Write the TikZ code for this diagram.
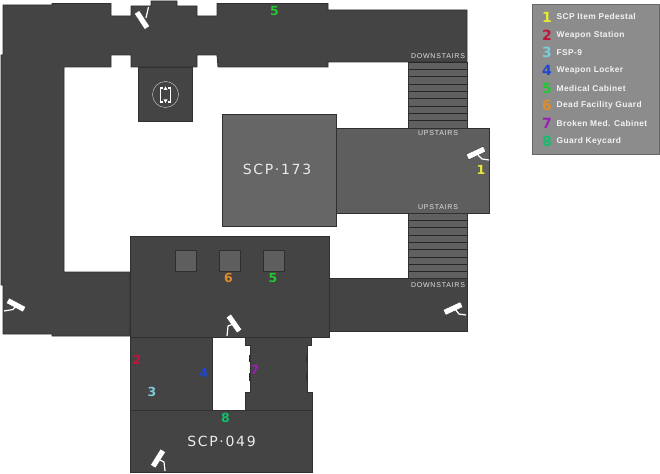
\documentclass[tikz,border=0pt]{standalone}
\usepackage{fontspec}
\setmainfont{Liberation Sans}
\newfontfamily\legfont[LetterSpace=4.5]{Liberation Sans}
\newfontfamily\stairfont[LetterSpace=11]{Liberation Sans}
\newfontfamily\roomfont[LetterSpace=12]{DejaVu Sans}
\newfontfamily\digfont{DejaVu Sans}
\definecolor{corr}{HTML}{444444}
\definecolor{edge}{HTML}{303030}
\definecolor{lit}{HTML}{5E5E5E}
\definecolor{lit2}{HTML}{666666}
\definecolor{stair}{HTML}{606060}
\definecolor{leg}{HTML}{8C8C8C}
\definecolor{cone}{HTML}{E8E83C}
\definecolor{ctwo}{HTML}{C0143C}
\definecolor{cthree}{HTML}{7CCBD8}
\definecolor{cfour}{HTML}{1E46D2}
\definecolor{cfive}{HTML}{22C832}
\definecolor{csix}{HTML}{E08C28}
\definecolor{cseven}{HTML}{9A1EB4}
\definecolor{ceight}{HTML}{14BE6E}
\tikzset{
  x=1pt,y=-1pt,
  room/.style={fill=corr,draw=edge,line width=0.8pt,line join=miter},
  litroom/.style={fill=lit,draw=edge,line width=0.8pt},
  crate/.style={fill=#1,draw=#1!50!black,line width=0.9pt},
  tread/.style={draw=black!85,line width=0.8pt},
  door/.style={draw=edge,line width=1.1pt},
  cambody/.style={draw=edge,fill=white,line width=0.4pt,minimum width=19pt,minimum height=6pt,inner sep=0pt,shape=rectangle},
  camarm/.style={draw=white,line width=1.2pt},
  stairlab/.style={text=white!88!black,font=\stairfont\fontsize{7}{7}\selectfont,inner sep=0pt},
  roomlab/.style={text=white!92!black,font=\roomfont\fontsize{14}{14}\selectfont,inner sep=0pt},
  digit/.style={text=#1,font=\digfont\bfseries\fontsize{12.5}{12.5}\selectfont,inner sep=0pt},
  legdigit/.style={text=#1,font=\digfont\bfseries\fontsize{14}{14}\selectfont,inner sep=0pt},
  legtext/.style={text=white!95!black,font=\legfont\bfseries\fontsize{8.4}{9}\selectfont,anchor=west,inner sep=0pt},
}
\begin{document}
\begin{tikzpicture}
\useasboundingbox (0,0) rectangle (660,473);
\fill[white] (0,0) rectangle (660,473);
% stairs
\fill[stair] (408,62) rectangle (467,128);
\fill[stair] (408,213) rectangle (467,278);
\foreach \y in {62,69.5,76.7,84,91,98,106,113,120}{\draw[tread] (408,\y) -- (467,\y);}
\foreach \y in {220,227,235,242,249,257,264,271}{\draw[tread] (408,\y) -- (467,\y);}
\draw[edge,line width=0.6pt] (408,62) -- (408,128) (467,62) -- (467,128) (408,213) -- (408,278) (467,213) -- (467,278);
% upper corridor and left wing
\draw[room] (3,5) -- (52,5) -- (52,3.5) -- (111,3.5) -- (111,16) -- (131,16) -- (131,6) -- (151,6) -- (151,1) -- (177,1) -- (177,6) -- (197,6) -- (197,16) -- (217,16) -- (217,3.5) -- (328,3.5) -- (328,10) -- (467,10) -- (467,62) -- (408,62) -- (328,62) -- (328,67) -- (218,67) -- (217,55) -- (197,55) -- (197,67) -- (131,67) -- (131,55) -- (111,55) -- (111,67) -- (64,67) -- (64,272) -- (130,272) -- (130,336) -- (52,336) -- (52,334) -- (3,334) -- (3,285) -- (1,285) -- (1,55) -- (3,55) -- cycle;
% pedestal room
\draw[room] (138,67) rectangle (192,121);
% lit rooms
\draw[litroom] (336,128) rectangle (489,213);
\draw[litroom,fill=lit2] (222,114) rectangle (336,226);
% lower corridor + main room
\draw[room] (329,278) rectangle (467,331);
\draw[room] (130,236) rectangle (329,337);
% crates
\draw[crate=lit] (175,250) rectangle (196,271);
\draw[crate=lit] (219,250) rectangle (240,271);
\draw[crate=lit] (263,250) rectangle (284,271);
% south rooms
\draw[room] (130,337) -- (212,337) -- (212,410) -- (130,410) -- cycle;
\draw[room] (245,337) -- (311,337) -- (311,345) -- (307,345) -- (307,392) -- (312,392) -- (312,410) -- (245,410) -- (245,392) -- (250,392) -- (250,345) -- (245,345) -- cycle;
\draw[room] (130,410) rectangle (312,472);
\draw[door] (250,355) -- (250,362) (250,373) -- (250,381) (307,355) -- (307,362) (307,373) -- (307,381);
% elevator icon
\draw[white!75!black,line width=0.5pt] (165.5,94.5) circle (13);
\draw[white,line width=1.1pt] (163,88) -- (160.5,88) -- (160.5,102) -- (163,102);
\draw[white,line width=1.1pt] (168,88) -- (170.5,88) -- (170.5,102) -- (168,102);
\fill[white] (165.5,86.5) -- (163.5,90) -- (167.5,90) -- cycle;
\fill[white] (165.5,103) -- (163.5,99.5) -- (167.5,99.5) -- cycle;
% cameras
\node[cambody,rotate=-57] (camA) at (142,20) {};
\draw[camarm] (146,18) -- (148.5,7);
\node[cambody,rotate=25] (camB) at (476,153) {};
\draw[camarm] (478,155) -- (482,159) -- (489,160);
\node[cambody,rotate=-28] (camC) at (16,305) {};
\draw[camarm] (4,311) -- (13,309.5) -- (16,306);
\node[cambody,rotate=-55] (camD) at (234,323.5) {};
\draw[camarm] (227,336) -- (228,326) -- (232,324.5);
\node[cambody,rotate=58] (camE) at (158,458.5) {};
\draw[camarm] (165,471) -- (164,462) -- (160,460);
\node[cambody,rotate=25] (camF) at (453,308.5) {};
\draw[camarm] (455,309) -- (459,314) -- (466,315);
% stair labels
\node[stairlab] (s1) at (438,56) {DOWNSTAIRS};
\node[stairlab] (s2) at (438,133) {UPSTAIRS};
\node[stairlab] (s3) at (438,207) {UPSTAIRS};
\node[stairlab] (s4) at (438,285) {DOWNSTAIRS};
% room labels
\node[roomlab] (r173) at (277,169.5) {SCP·173};
\node[roomlab] (r049) at (221.5,441.5) {SCP·049};
% map numbers
\node[digit=cone] (n1) at (481,170) {1};
\node[digit=ctwo] (n2) at (137,360) {2};
\node[digit=cthree] (n3) at (152,392) {3};
\node[digit=cfour] (n4) at (204,373) {4};
\node[digit=cfive] (n5a) at (274.5,11) {5};
\node[digit=cfive] (n5b) at (273,278) {5};
\node[digit=csix] (n6) at (228.5,278) {6};
\node[digit=cseven] (n7) at (255,370) {7};
\node[digit=ceight] (n8) at (225.5,418) {8};
% legend
\draw[fill=leg,draw=black!60,line width=0.9pt] (532.5,4.5) rectangle (659,154) ;
\node[legdigit=cone] (l1) at (547,17) {1};
\node[legdigit=ctwo] (l2) at (547,35) {2};
\node[legdigit=cthree] (l3) at (547,52.5) {3};
\node[legdigit=cfour] (l4) at (547,70) {4};
\node[legdigit=cfive] (l5) at (547,88) {5};
\node[legdigit=csix] (l6) at (547,105.5) {6};
\node[legdigit=cseven] (l7) at (547,123) {7};
\node[legdigit=ceight] (l8) at (547,141) {8};
\node[legtext] (t1) at (556.5,17) {SCP Item Pedestal};
\node[legtext] (t2) at (556.5,35) {Weapon Station};
\node[legtext] (t3) at (556.5,52.5) {FSP-9};
\node[legtext] (t4) at (556.5,70) {Weapon Locker};
\node[legtext] (t5) at (556.5,88) {Medical Cabinet};
\node[legtext] (t6) at (556.5,105.5) {Dead Facility Guard};
\node[legtext] (t7) at (556.5,123) {Broken Med. Cabinet};
\node[legtext] (t8) at (556.5,141) {Guard Keycard};
\end{tikzpicture}
\end{document}
